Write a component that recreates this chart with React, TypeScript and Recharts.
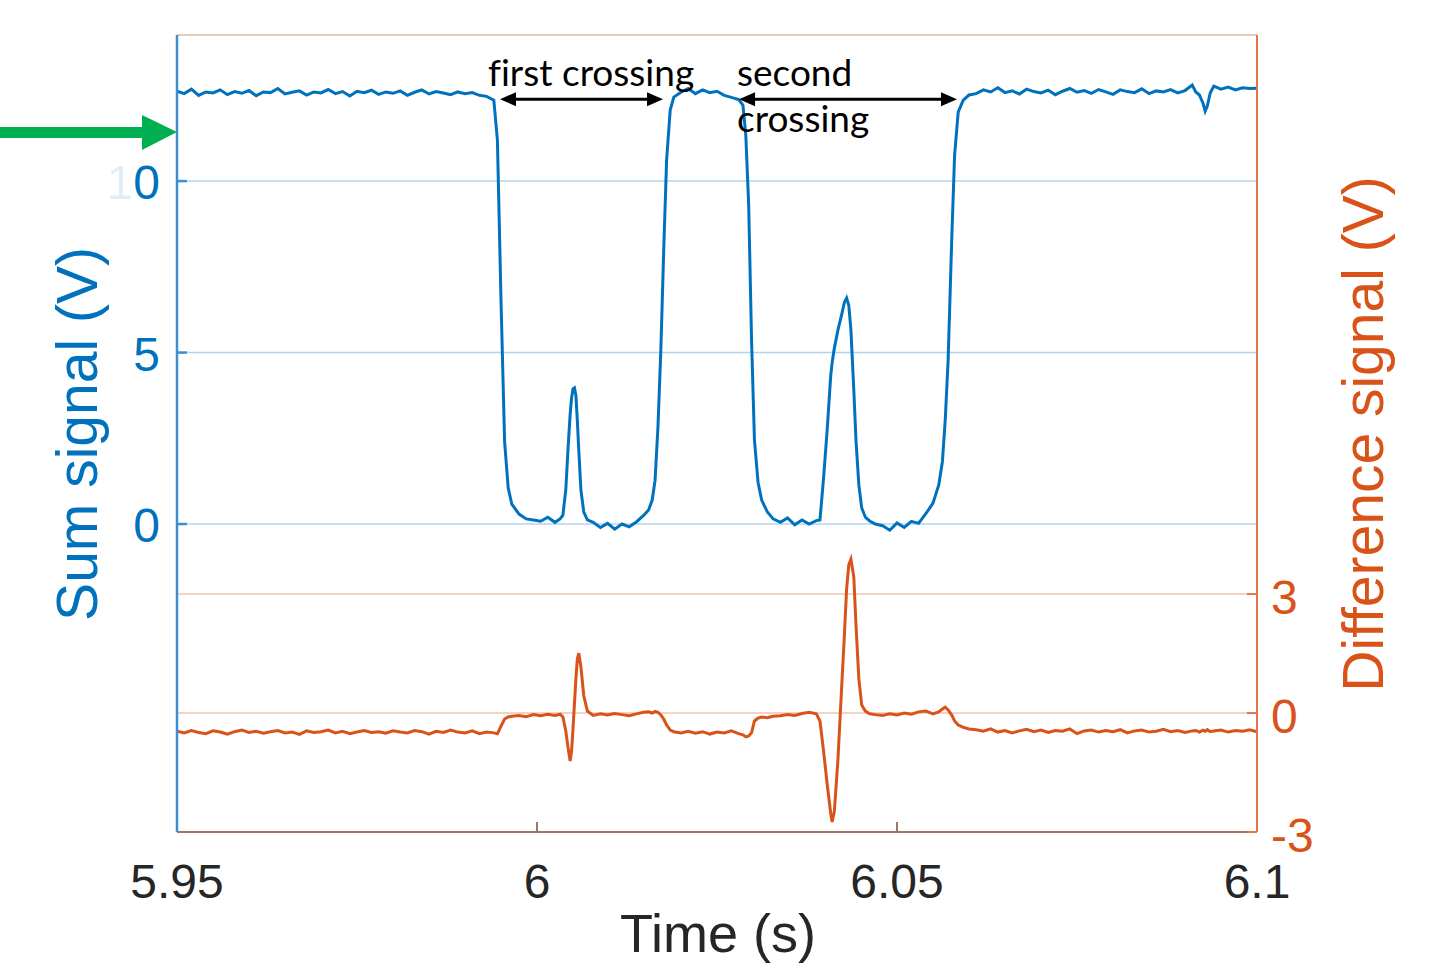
import React from 'react';
import {
  LineChart,
  Line,
  XAxis,
  YAxis,
  CartesianGrid,
  ReferenceLine,
} from 'recharts';

// sample times (s)
const timeS = [
  // before first crossing
  5.950, 5.951, 5.952, 5.953, 5.954, 5.955, 5.956, 5.957, 5.958, 5.959,
  5.960, 5.961, 5.962, 5.963, 5.964, 5.965, 5.966, 5.967, 5.968, 5.969,
  5.970, 5.971, 5.972, 5.973, 5.974, 5.975, 5.976, 5.977, 5.978, 5.979,
  5.980, 5.981, 5.982, 5.983, 5.984, 5.985, 5.986, 5.987, 5.988, 5.989,
  5.990, 5.991, 5.992, 5.993,
  // first falling edge
  5.9940, 5.9945, 5.9950, 5.9955, 5.9960, 5.9965, 5.9975, 5.9985, 5.9995,
  6.0005, 6.0015, 6.0025, 6.0032,
  // first small peak
  6.0036, 6.0040, 6.0043, 6.0046, 6.0048, 6.0050, 6.0052, 6.0054, 6.0056,
  6.0058, 6.0061, 6.0065, 6.0070,
  6.0078, 6.0088, 6.0098, 6.0108, 6.0118, 6.0128, 6.0138, 6.0148,
  // first rising edge
  6.0155, 6.0160, 6.0164, 6.0168, 6.0172, 6.0176, 6.0180, 6.0185, 6.0190, 6.0200,
  6.021, 6.022, 6.023, 6.024, 6.025, 6.026, 6.027, 6.028,
  // second falling edge
  6.0286, 6.0290, 6.0294, 6.0298, 6.0302, 6.0307, 6.0312, 6.0320, 6.0328,
  6.0338, 6.0348, 6.0358, 6.0368, 6.0378, 6.0388,
  // second peak
  6.0393, 6.0398, 6.0403, 6.0408, 6.0410, 6.0413, 6.0418, 6.0423, 6.0427, 6.0430,
  6.0433, 6.0436, 6.0440, 6.0443, 6.0447, 6.0451, 6.0456, 6.0462, 6.0470,
  6.048, 6.049, 6.050, 6.051, 6.052, 6.053, 6.054,
  // second rising edge
  6.0550, 6.0558, 6.0563, 6.0567, 6.0571, 6.0576, 6.0580, 6.0585, 6.0592, 6.0600,
  6.061, 6.062, 6.063, 6.064, 6.065, 6.066, 6.067, 6.068, 6.069, 6.070,
  6.071, 6.072, 6.073, 6.074, 6.075, 6.076, 6.077, 6.078, 6.079, 6.080,
  6.081, 6.082, 6.083, 6.084, 6.085, 6.086, 6.087, 6.088, 6.089, 6.090, 6.091,
  6.0915, 6.0920, 6.0925, 6.0928, 6.0931, 6.0935, 6.0940,
  6.095, 6.096, 6.097, 6.098, 6.099, 6.100,
];

// sum signal (V)
const sumSignal = [
  12.62, 12.55, 12.68, 12.50, 12.60, 12.57, 12.66, 12.52, 12.61, 12.56,
  12.64, 12.49, 12.60, 12.58, 12.70, 12.54, 12.59, 12.63, 12.51, 12.60,
  12.57, 12.67, 12.55, 12.61, 12.48, 12.62, 12.58, 12.65, 12.53, 12.60,
  12.56, 12.63, 12.50, 12.59, 12.66, 12.54, 12.61, 12.57, 12.52, 12.60,
  12.55, 12.58, 12.50, 12.47,
  12.36, 11.2, 6.53, 2.40, 1.05, 0.58, 0.29, 0.15, 0.12,
  0.08, 0.20, 0.05, 0.15,
  0.26, 1.0, 2.16, 3.18, 3.67, 3.94, 3.97, 3.76, 3.03,
  2.16, 0.99, 0.35, 0.12,
  0.05, -0.10, 0.02, -0.15, 0.0, -0.08, 0.06, 0.25,
  0.41, 0.70, 1.28, 2.83, 5.07, 7.99, 10.61, 12.07, 12.45, 12.59,
  12.70, 12.55, 12.66, 12.58, 12.62, 12.50, 12.44, 12.38,
  12.22, 11.34, 9.30, 5.36, 2.45, 1.22, 0.70, 0.35, 0.15,
  0.05, 0.18, -0.02, 0.12, 0.0, 0.10,
  0.12, 1.34, 2.74, 4.34, 4.72, 5.13, 5.66, 6.09, 6.47, 6.59,
  6.38, 5.66, 3.91, 2.45, 1.14, 0.47, 0.20, 0.09, 0.0,
  -0.05, -0.18, 0.03, -0.10, 0.08, 0.02, 0.30,
  0.61, 1.14, 1.81, 3.03, 4.78, 8.28, 10.76, 12.01, 12.36, 12.51,
  12.55, 12.66, 12.60, 12.72, 12.58, 12.63, 12.54, 12.68, 12.61, 12.57,
  12.65, 12.52, 12.62, 12.70, 12.59, 12.64, 12.56, 12.67, 12.60, 12.53,
  12.66, 12.61, 12.58, 12.69, 12.55, 12.63, 12.60, 12.67, 12.57, 12.64, 12.80,
  12.60, 12.51, 12.27, 12.04, 12.19, 12.57, 12.77,
  12.68, 12.74, 12.66, 12.72, 12.70, 12.71,
];

// difference signal (V)
const diffSignal = [
  -0.46, -0.50, -0.44, -0.49, -0.52, -0.45, -0.48, -0.53, -0.47, -0.43,
  -0.49, -0.46, -0.51, -0.47, -0.44, -0.50, -0.48, -0.54, -0.45, -0.49,
  -0.47, -0.43, -0.50, -0.46, -0.52, -0.48, -0.44, -0.49, -0.47, -0.51,
  -0.45, -0.48, -0.50, -0.44, -0.47, -0.53, -0.46, -0.49, -0.43, -0.48,
  -0.50, -0.45, -0.52, -0.48,
  -0.50, -0.52, -0.33, -0.15, -0.10, -0.08, -0.06, -0.09, -0.04,
  -0.07, -0.03, -0.06, -0.03,
  -0.10, -0.45, -0.86, -1.21, -0.96, -0.40, 0.23, 0.86, 1.36,
  1.51, 1.16, 0.43, 0.05,
  -0.06, -0.02, -0.05, -0.01, -0.04, -0.07, -0.02, 0.02,
  0.03, 0.00, 0.04, 0.02, -0.05, -0.15, -0.30, -0.43, -0.47, -0.50,
  -0.46, -0.51, -0.47, -0.53, -0.48, -0.50, -0.45, -0.52,
  -0.55, -0.60, -0.58, -0.50, -0.20, -0.13, -0.10, -0.12, -0.08,
  -0.07, -0.04, -0.06, -0.01, 0.02, -0.02,
  -0.20, -0.96, -1.79, -2.54, -2.75, -2.47, -1.16, 0.60, 1.99, 3.12,
  3.73, 3.88, 3.43, 2.24, 0.86, 0.20, 0.05, -0.02, -0.04,
  -0.06, -0.02, -0.05, 0.0, -0.03, 0.03, 0.05,
  -0.02, 0.03, 0.10, 0.15, 0.08, -0.05, -0.20, -0.30, -0.36, -0.40,
  -0.42, -0.46, -0.40, -0.48, -0.44, -0.50, -0.45, -0.41, -0.47, -0.43,
  -0.49, -0.44, -0.46, -0.40, -0.52, -0.45, -0.43, -0.48, -0.44, -0.47,
  -0.42, -0.50, -0.45, -0.43, -0.48, -0.46, -0.41, -0.47, -0.44, -0.49, -0.45,
  -0.44, -0.48, -0.43, -0.46, -0.42, -0.47, -0.45,
  -0.43, -0.48, -0.44, -0.46, -0.42, -0.47,
];

const timeTicks = [5.95, 6, 6.05, 6.1];
const sumTicks = [0, 5, 10];
const diffTicks = [-3, 0, 3];

// crossing annotations: [start, end] in seconds, drawn at sum level
const crossings = [
  { from: 5.99486, to: 6.0175 },
  { from: 6.02806, to: 6.05833 },
];
const arrowLevel = 12.39;

const rows = timeS.map((t, i) => ({ t, sum: sumSignal[i], diff: diffSignal[i] }));

const BLUE = '#0072BD';
const ORANGE = '#D95319';
const TICK_FONT = '"Liberation Sans", Arial, Helvetica, sans-serif';

const TimeTick = ({ x, y, payload }: any) => (
  <text x={x} y={y + 32} textAnchor="middle" fill="#262626" fontSize={48} fontFamily={TICK_FONT}>
    {String(payload.value)}
  </text>
);

const SumTick = ({ x, y, payload }: any) => {
  if (payload.value === 10) {
    return (
      <text x={x} y={y + 18} textAnchor="end" fill={BLUE} fontSize={48} fontFamily={TICK_FONT}>
        <tspan fillOpacity={0.12}>1</tspan>
        <tspan>0</tspan>
      </text>
    );
  }
  return (
    <text x={x} y={y + 18} textAnchor="end" fill={BLUE} fontSize={48} fontFamily={TICK_FONT}>
      {String(payload.value)}
    </text>
  );
};

const DiffTick = ({ x, y, payload }: any) => (
  <text x={x} y={y + 20} textAnchor="start" fill={ORANGE} fontSize={48} fontFamily={TICK_FONT}>
    {String(payload.value)}
  </text>
);

const DoubleArrow = (props: any) => {
  const { x1, y1, x2 } = props;
  const y = y1;
  return (
    <g>
      <line x1={x1 + 12} y1={y} x2={x2 - 12} y2={y} stroke="#000" strokeWidth={3} />
      <polygon points={`${x1},${y} ${x1 + 16},${y - 7} ${x1 + 16},${y + 7}`} fill="#000" />
      <polygon points={`${x2},${y} ${x2 - 16},${y - 7} ${x2 - 16},${y + 7}`} fill="#000" />
    </g>
  );
};

export default function App() {
  return (
    <div style={{ position: 'absolute', left: 0, top: 0, width: 1430, height: 969, background: '#fff' }}>
      <LineChart
        width={1430}
        height={969}
        data={rows}
        margin={{ top: 35, right: 113, bottom: 77, left: 117 }}
      >
        <CartesianGrid yAxisId="sum" xAxisId="time" vertical={false} stroke="#b3d4ee" strokeWidth={1.5} />
        <CartesianGrid yAxisId="diff" xAxisId="time" vertical={false} stroke="#f2c4ae" strokeWidth={1.5} />
        <XAxis
          xAxisId="top"
          orientation="top"
          dataKey="t"
          type="number"
          domain={[5.95, 6.1]}
          ticks={timeTicks}
          allowDataOverflow
          height={0}
          tick={false}
          tickSize={-10}
          stroke="#262626"
          strokeWidth={2}
        />
        <XAxis
          xAxisId="time"
          dataKey="t"
          type="number"
          domain={[5.95, 6.1]}
          ticks={timeTicks}
          allowDataOverflow
          height={60}
          tickSize={-10}
          tickMargin={44}
          tick={<TimeTick />}
          stroke="#9a7868"
          strokeWidth={2}
        />
        <YAxis
          yAxisId="sum"
          type="number"
          domain={[-8.98, 14.26]}
          ticks={sumTicks}
          allowDataOverflow
          width={60}
          tickSize={-10}
          tickMargin={27}
          tick={<SumTick />}
          stroke="#3d8fd1"
          strokeWidth={2.5}
        />
        <YAxis
          yAxisId="diff"
          orientation="right"
          type="number"
          domain={[-3, 17.1]}
          ticks={diffTicks}
          allowDataOverflow
          width={60}
          tickSize={-10}
          tickMargin={24}
          tick={<DiffTick />}
          stroke="#e0764a"
          strokeWidth={2}
        />
        <Line
          xAxisId="time"
          yAxisId="diff"
          dataKey="diff"
          stroke={ORANGE}
          strokeWidth={3}
          dot={false}
          isAnimationActive={false}
        />
        <Line
          xAxisId="time"
          yAxisId="sum"
          dataKey="sum"
          stroke={BLUE}
          strokeWidth={3}
          dot={false}
          isAnimationActive={false}
        />
        {crossings.map((c, i) => (
          <ReferenceLine
            key={i}
            xAxisId="time"
            yAxisId="sum"
            segment={[{ x: c.from, y: arrowLevel }, { x: c.to, y: arrowLevel }]}
            ifOverflow="visible"
            shape={<DoubleArrow />}
          />
        ))}
      </LineChart>
      <svg
        width={1430}
        height={969}
        style={{ position: 'absolute', left: 0, top: 0, pointerEvents: 'none' }}
      >
        <polygon points="0,127 142,127 142,115 177,132 142,150 142,138 0,138" fill="#00B050" />
        <g fontFamily="Lato, 'Open Sans', sans-serif" fontSize={37} fill="#000" style={{ fontVariantLigatures: 'none' }}>
          <text x={488} y={86}>first crossing</text>
          <text x={737} y={86}>second</text>
          <text x={737} y={132}>crossing</text>
        </g>
        <text
          transform="translate(97,434) rotate(-90)"
          textAnchor="middle"
          fontFamily={TICK_FONT}
          fontSize={57}
          fill={BLUE}
        >
          Sum signal (V)
        </text>
        <text
          transform="translate(1383,434) rotate(-90)"
          textAnchor="middle"
          fontFamily={TICK_FONT}
          fontSize={57}
          fill={ORANGE}
        >
          Difference signal (V)
        </text>
        <text x={718} y={952} textAnchor="middle" fontFamily={TICK_FONT} fontSize={54} fill="#262626">
          Time (s)
        </text>
      </svg>
    </div>
  );
}
